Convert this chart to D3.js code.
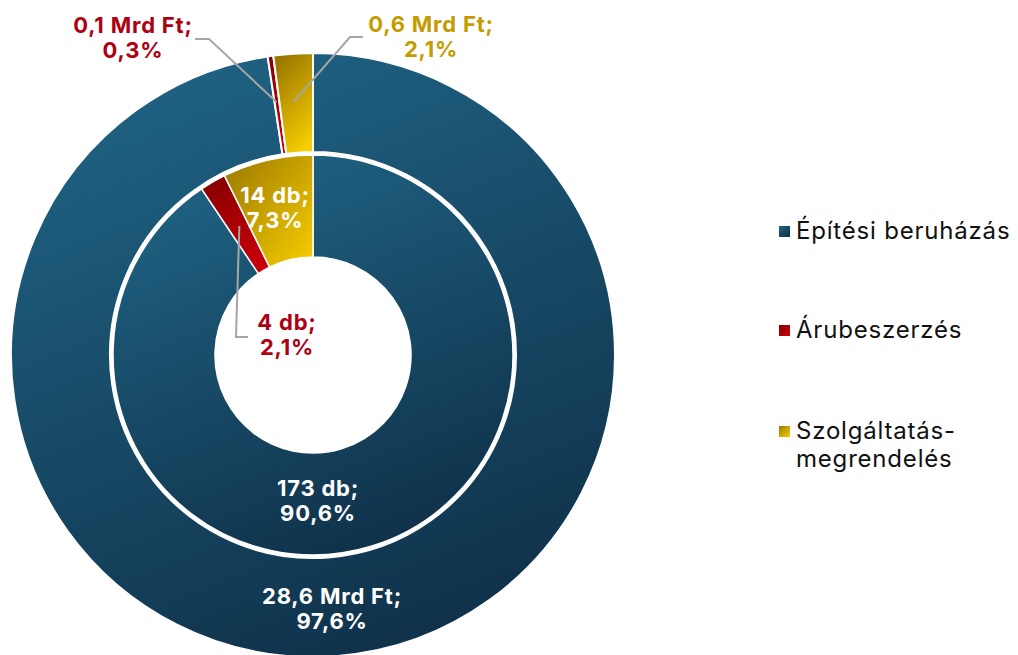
<!DOCTYPE html>
<html>
<head>
<meta charset="utf-8">
<script src="https://cdn.jsdelivr.net/npm/d3@7"></script>
<style>
  html, body { margin: 0; padding: 0; background: #fff; }
  svg { display: block; font-family: Inter, "Noto Sans", sans-serif; }
</style>
</head>
<body>
<svg id="chart" width="1018" height="655"></svg>
<script>
const categories = ["Építési beruházás", "Árubeszerzés", "Szolgáltatás-megrendelés"];
const legendLines = [["Építési beruházás"], ["Árubeszerzés"], ["Szolgáltatás-", "megrendelés"]];
const outerValues = [28.6, 0.1, 0.6];          // Mrd Ft
const outerPercents = ["97,6%", "0,3%", "2,1%"];
const outerAmounts = ["28,6 Mrd Ft;", "0,1 Mrd Ft;", "0,6 Mrd Ft;"];
const outerShares = [97.6, 0.3, 2.1];
const innerValues = [173, 4, 14];              // db
const innerShares = [90.6, 2.1, 7.3];
const innerAmounts = ["173 db;", "4 db;", "14 db;"];
const innerPercents = ["90,6%", "2,1%", "7,3%"];

const gradStops = [
  ["#1f6283", "#0f3048"],
  ["#8a0000", "#c8000a"],
  ["#9a7700", "#f7cf00"]
];
const textColors = ["#ffffff", "#ad0012", "#c49c00"];

const svg = d3.select("#chart");
const cx = 313, cy = 355;
const defs = svg.append("defs");
gradStops.forEach((s, i) => {
  const g = defs.append("linearGradient").attr("id", "g" + i)
    .attr("x1", 0.3).attr("y1", 0).attr("x2", 0.7).attr("y2", 1);
  g.append("stop").attr("offset", 0).attr("stop-color", s[0]);
  g.append("stop").attr("offset", 1).attr("stop-color", s[1]);
  const g2 = defs.append("linearGradient").attr("id", "gd" + i)
    .attr("x1", 0).attr("y1", 0).attr("x2", 1).attr("y2", 1);
  g2.append("stop").attr("offset", 0).attr("stop-color", s[0]);
  g2.append("stop").attr("offset", 1).attr("stop-color", s[1]);
});

const pie = d3.pie().sort(null).value(d => d);
const outerArcs = pie(outerShares);
const innerArcs = pie(innerShares);

const outerArc = d3.arc().innerRadius(203).outerRadius(302);
const innerArc = d3.arc().innerRadius(98).outerRadius(200);

const g = svg.append("g").attr("transform", `translate(${cx},${cy})`);

g.selectAll("path.outer").data(outerArcs).join("path")
  .attr("class", "outer")
  .attr("d", outerArc)
  .attr("fill", (d, i) => `url(#g${i})`)
  .attr("stroke", "#fff").attr("stroke-width", 2);

g.selectAll("path.inner").data(innerArcs).join("path")
  .attr("class", "inner")
  .attr("d", innerArc)
  .attr("fill", (d, i) => i === 2 ? `url(#gd${i})` : `url(#g${i})`)
  .attr("stroke", "#fff").attr("stroke-width", 1.5);

// leader lines
const leaderColor = "#a6a6a6";
function leader(points) {
  svg.append("path").attr("d", d3.line()(points))
    .attr("fill", "none").attr("stroke", leaderColor).attr("stroke-width", 2);
}
const cRed = outerArc.centroid(outerArcs[1]);
const cGold = outerArc.centroid(outerArcs[2]);
const cInRed = innerArc.centroid(innerArcs[1]);
leader([[195, 39], [209, 39], [cx + cRed[0] - 1, cy + cRed[1] - 3]]);
leader([[363, 37], [350, 37], [cx + cGold[0] - 3, cy + cGold[1] - 1]]);
leader([[cx + cInRed[0] + 1, cy + cInRed[1]], [236, 337], [248, 337]]);

function label(x, y, lines, color, size) {
  const t = svg.append("text").attr("x", x).attr("y", y)
    .attr("text-anchor", "middle").attr("fill", color)
    .attr("font-size", size).attr("font-weight", 700)
    .attr("letter-spacing", 0.8);
  lines.forEach((l, i) => t.append("tspan").attr("x", x).attr("dy", i === 0 ? 0 : 25).text(l));
}
const fs = 22;
label(133, 33, [outerAmounts[1], outerPercents[1]], textColors[1], fs);
label(431, 32, [outerAmounts[2], outerPercents[2]], textColors[2], fs);
label(332, 604, [outerAmounts[0], outerPercents[0]], textColors[0], fs);
label(318, 496, [innerAmounts[0], innerPercents[0]], textColors[0], fs);
label(287, 330, [innerAmounts[1], innerPercents[1]], textColors[1], fs);
label(275, 203, [innerAmounts[2], innerPercents[2]], "#ffffff", fs);

// legend
const legendY = [231, 330, 431];
const lg = svg.append("g");
legendLines.forEach((lines, i) => {
  lg.append("rect").attr("x", 779).attr("y", legendY[i] - 5).attr("width", 11).attr("height", 11)
    .attr("fill", `url(#gd${i})`);
  const t = lg.append("text").attr("x", 796).attr("y", legendY[i] + 8)
    .attr("font-size", 24).attr("fill", "#111").attr("letter-spacing", 0.8);
  lines.forEach((l, j) => t.append("tspan").attr("x", 796).attr("dy", j === 0 ? 0 : 28).text(l));
});
</script>
</body>
</html>
